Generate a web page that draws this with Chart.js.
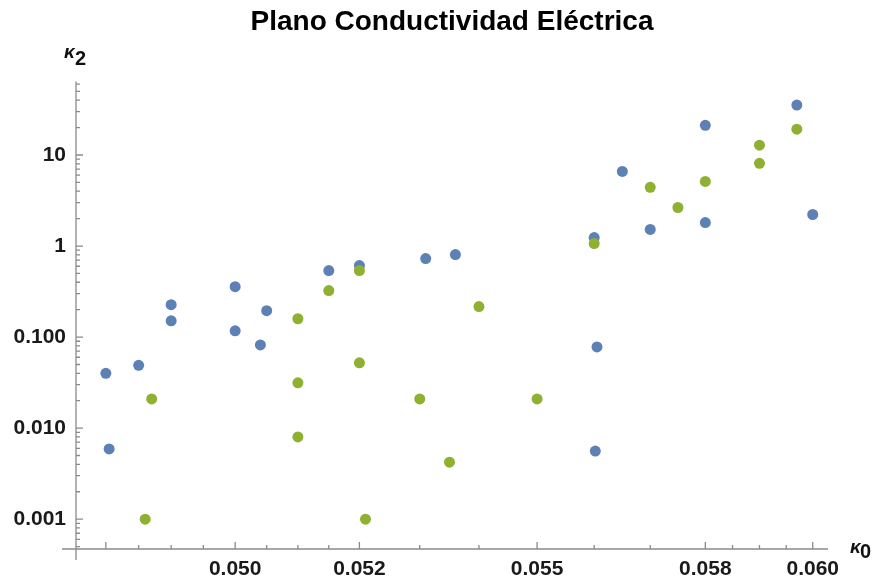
<!DOCTYPE html>
<html lang="es">
<head>
<meta charset="UTF-8">
<title>Plano Conductividad Eléctrica</title>
<script src="https://cdn.jsdelivr.net/npm/chart.js@4.4.1/dist/chart.umd.min.js"></script>
<style>
  html, body { margin: 0; padding: 0; background: #fff; }
  #wrap { width: 875px; height: 587px; }
</style>
</head>
<body>
<div id="wrap"><canvas id="plano"></canvas></div>
<script>
// kappa0 / kappa2 values
const xBlue = [0.0480, 0.04805, 0.0485, 0.0490, 0.0490, 0.0500, 0.0500, 0.0505, 0.0504, 0.0515, 0.0520,
               0.0531, 0.0536, 0.0560, 0.05605, 0.05602, 0.0565, 0.0570, 0.0580, 0.0580, 0.0597, 0.0600];
const yBlue = [0.040, 0.0059, 0.049, 0.227, 0.151, 0.358, 0.117, 0.195, 0.082, 0.537, 0.61,
               0.728, 0.806, 1.24, 0.078, 0.0056, 6.6, 1.52, 21.2, 1.81, 35.3, 2.22];

const xGreen = [0.0487, 0.0486, 0.0510, 0.0510, 0.0510, 0.0515, 0.0520, 0.0520, 0.0521, 0.0540,
                0.0530, 0.0550, 0.0535, 0.0560, 0.0570, 0.0575, 0.0580, 0.0590, 0.0590, 0.0597];
const yGreen = [0.0209, 0.001, 0.159, 0.0314, 0.0080, 0.324, 0.537, 0.0521, 0.001, 0.216,
                0.0209, 0.0209, 0.00423, 1.065, 4.41, 2.65, 5.13, 12.8, 8.1, 19.2];

// ticks
const xMajor = [0.048, 0.050, 0.052, 0.055, 0.058, 0.060];
const xLabels = ['', '0.050', '0.052', '0.055', '0.058', '0.060'];
const xMinor = [0.0485, 0.049, 0.0495, 0.0505, 0.051, 0.0515, 0.053, 0.054, 0.056, 0.057, 0.0585, 0.059, 0.0595];

const yMajor = [0.001, 0.01, 0.1, 1, 10];
const yLabels = ['0.001', '0.010', '0.100', '1', '10'];

const xMin = 0.04755, xMax = 0.06029;
const yMin = 0.00047, yMax = 64;

const yMinor = [];
[0.0001, 0.001, 0.01, 0.1, 1, 10].forEach(d => {
    for (let m = 2; m <= 9; m++) {
        const v = d * m;
        if (v > yMin && v < yMax) yMinor.push(v);
    }
});

function pts(xs, ys) {
    return xs.map((x, i) => ({ x: x, y: ys[i] }));
}

function labelFor(majors, labels, v) {
    const i = majors.findIndex(m => Math.abs(m - v) < m * 1e-6);
    return i >= 0 ? labels[i] : '';
}

const tickFont = { family: '"Liberation Sans", Arial, sans-serif', size: 21, weight: 'bold' };
const axisGray = '#8a8a8a';

// Mathematica style axes: lines crossing at lower left, ticks pointing inward
const axesPlugin = {
    id: 'mmaAxes',
    beforeDatasetsDraw(chart) {
        const ctx = chart.ctx;
        const a = chart.chartArea;
        const xs = chart.scales.x, ys = chart.scales.y;
        ctx.save();
        ctx.strokeStyle = axisGray;
        ctx.lineWidth = 1.3;
        ctx.beginPath();
        ctx.moveTo(a.left - 14, a.bottom);
        ctx.lineTo(a.right, a.bottom);
        ctx.moveTo(a.left, a.top);
        ctx.lineTo(a.left, a.bottom + 11);
        xMajor.concat(xMinor).forEach(v => {
            const px = xs.getPixelForValue(v);
            const len = xMajor.includes(v) ? 7 : 4;
            ctx.moveTo(px, a.bottom);
            ctx.lineTo(px, a.bottom - len);
        });
        yMajor.concat(yMinor).forEach(v => {
            const py = ys.getPixelForValue(v);
            const len = yMajor.includes(v) ? 7 : 4;
            ctx.moveTo(a.left, py);
            ctx.lineTo(a.left + len, py);
        });
        ctx.stroke();

        // axis names
        ctx.fillStyle = '#111';
        ctx.textBaseline = 'alphabetic';
        ctx.textAlign = 'left';
        ctx.font = 'italic bold 19px "Liberation Sans", Arial, sans-serif';
        ctx.fillText('κ', 64, 58);
        ctx.fillText('κ', a.right + 22, a.bottom + 4);
        ctx.font = 'bold 20px "Liberation Sans", Arial, sans-serif';
        ctx.fillText('2', 75, 65);
        ctx.fillText('0', a.right + 32, a.bottom + 9);
        ctx.restore();
    }
};

new Chart(document.getElementById('plano'), {
    type: 'scatter',
    data: {
        datasets: [
            {
                label: 'azul',
                data: pts(xBlue, yBlue),
                backgroundColor: '#5E81B5',
                borderWidth: 0,
                pointRadius: 5.5,
                order: 1
            },
            {
                label: 'verde',
                data: pts(xGreen, yGreen),
                backgroundColor: '#8FB131',
                borderWidth: 0,
                pointRadius: 5.5,
                order: 0
            }
        ]
    },
    options: {
        responsive: true,
        maintainAspectRatio: false,
        animation: false,
        layout: { padding: { left: 0, right: 47, top: 0, bottom: 0 } },
        plugins: {
            legend: { display: false },
            tooltip: { enabled: false },
            title: {
                display: true,
                fullSize: false,
                text: 'Plano Conductividad Eléctrica',
                color: '#000',
                font: { family: '"Liberation Sans", Arial, sans-serif', size: 28, weight: 'bold' },
                padding: { top: 5, bottom: 43 }
            }
        },
        scales: {
            x: {
                type: 'logarithmic',
                min: xMin,
                max: xMax,
                bounds: 'data',
                grid: { display: false, drawTicks: false },
                border: { display: false },
                afterBuildTicks: s => { s.ticks = xMajor.concat(xMinor).sort((p, q) => p - q).map(v => ({ value: v })); },
                afterFit: s => { s.height = 38; },
                ticks: {
                    autoSkip: false,
                    maxRotation: 0,
                    padding: 8,
                    color: '#1a1a1a',
                    font: tickFont,
                    callback: v => labelFor(xMajor, xLabels, v)
                }
            },
            y: {
                type: 'logarithmic',
                min: yMin,
                max: yMax,
                bounds: 'data',
                grid: { display: false, drawTicks: false },
                border: { display: false },
                afterBuildTicks: s => { s.ticks = yMajor.concat(yMinor).sort((p, q) => p - q).map(v => ({ value: v })); },
                afterFit: s => { s.width = 76; },
                ticks: {
                    autoSkip: false,
                    padding: 10,
                    color: '#1a1a1a',
                    font: tickFont,
                    callback: v => labelFor(yMajor, yLabels, v)
                }
            }
        }
    },
    plugins: [axesPlugin]
});
</script>
</body>
</html>
